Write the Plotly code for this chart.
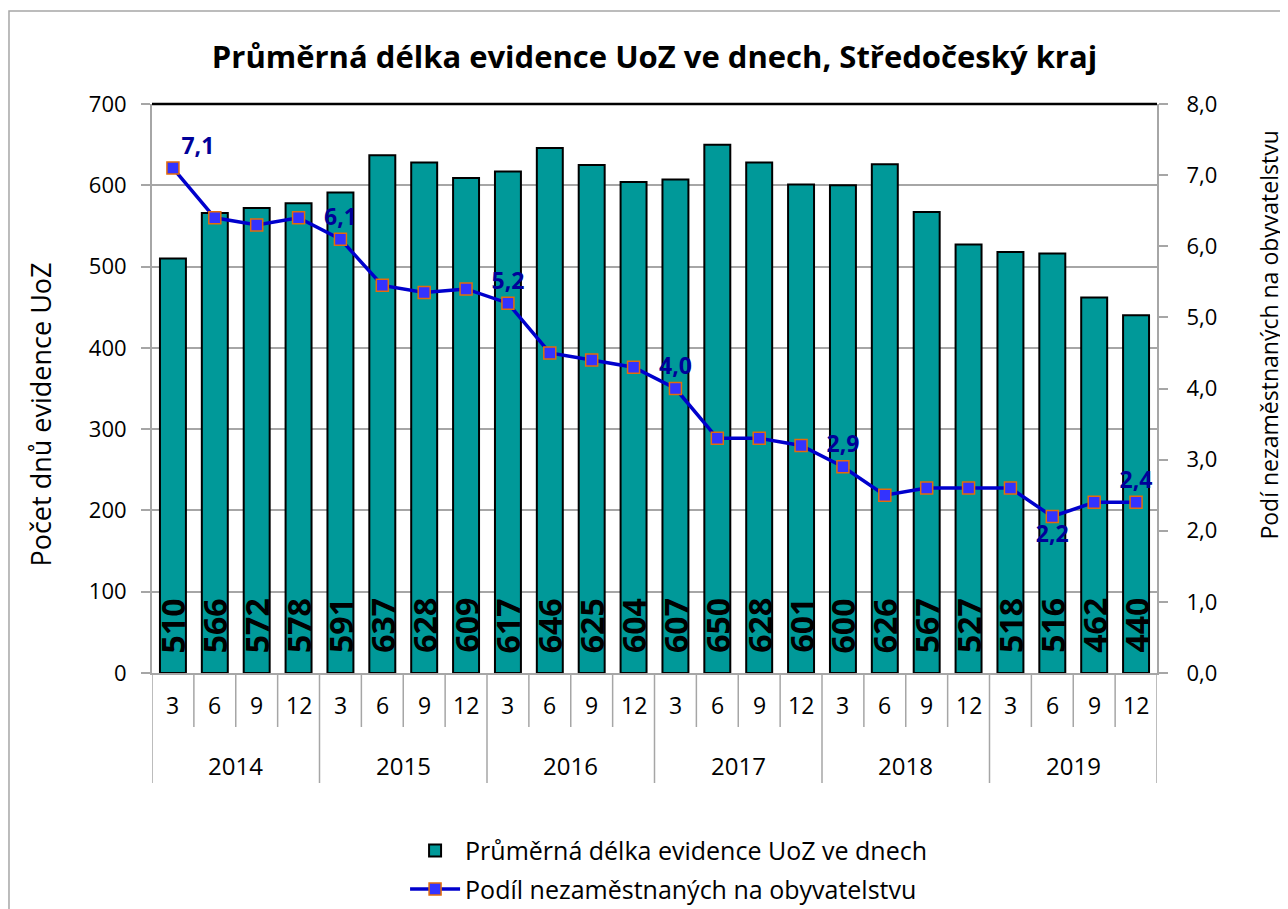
import plotly.graph_objects as go

# ---- data ----
years = ["2014", "2015", "2016", "2017", "2018", "2019"]
months = ["3", "6", "9", "12"]
days = [510, 566, 572, 578, 591, 637, 628, 609, 617, 646, 625, 604,
        607, 650, 628, 601, 600, 626, 567, 527, 518, 516, 462, 440]
share = [7.1, 6.4, 6.3, 6.4, 6.1, 5.45, 5.35, 5.4, 5.2, 4.5, 4.4, 4.3,
         4.0, 3.3, 3.3, 3.2, 2.9, 2.5, 2.6, 2.6, 2.6, 2.2, 2.4, 2.4]
labeled_points = [0, 4, 8, 12, 16, 21, 23]

bar_name = "Průměrná délka evidence UoZ ve dnech"
line_name = "Podíl nezaměstnaných na obyvatelstvu"
title = "Průměrná délka evidence UoZ ve dnech, Středočeský kraj"
y1_title = "Počet dnů evidence UoZ"
y2_title = "Podí nezaměstnaných na obyvatelstvu"

FONT = "'Open Sans', Lato, sans-serif"
n = len(days)
x = list(range(n))
month_labels = [m for _ in years for m in months]

line_text = [f"{v:.1f}".replace(".", ",") if i in labeled_points else "" for i, v in enumerate(share)]
line_pos = ["top center"] * n
line_pos[0] = "top right"
line_pos[21] = "bottom center"

fig = go.Figure()
fig.add_trace(go.Bar(
    x=x, y=days, name=bar_name, width=0.62, legendgroup="a",
    marker=dict(color="#009999", line=dict(color="#000000", width=2)),
    yaxis="y",
))
fig.add_trace(go.Scatter(
    x=x, y=share, name=line_name, yaxis="y2", legendgroup="b",
    mode="lines+markers+text",
    line=dict(color="#0000CC", width=3.5),
    marker=dict(symbol="square", size=12, color="#3333FF",
                line=dict(color="#E46C0A", width=1.5)),
    text=line_text, textposition=line_pos,
    textfont=dict(family=FONT, size=23, color="#000099", weight="bold"),
))

annotations = []
# bar value labels (rotated, at base)
for i, v in enumerate(days):
    annotations.append(dict(
        x=i, y=0, xref="x", yref="y", text=str(v), textangle=-90,
        showarrow=False, yanchor="bottom", xanchor="center", yshift=18,
        font=dict(family=FONT, size=32, color="#000000", weight="bold"),
    ))
# month labels
for i, m in enumerate(month_labels):
    annotations.append(dict(
        x=i, y=-0.056, xref="x", yref="paper", text=m, showarrow=False,
        font=dict(family=FONT, size=23, color="#000000"), yanchor="middle",
    ))
# year labels
for k, yr in enumerate(years):
    annotations.append(dict(
        x=k * len(months) + (len(months) - 1) / 2, y=-0.163, xref="x", yref="paper",
        text=yr, showarrow=False, font=dict(family=FONT, size=24, color="#000000"),
        yanchor="middle",
    ))
# axis titles
annotations.append(dict(
    x=-0.111, y=0.455, xref="paper", yref="paper", text=y1_title, textangle=-90,
    showarrow=False, xanchor="center", yanchor="middle",
    font=dict(family=FONT, size=27, color="#000000"),
))
annotations.append(dict(
    x=1.111, y=0.594, xref="paper", yref="paper", text=y2_title, textangle=-90,
    showarrow=False, xanchor="center", yanchor="middle",
    font=dict(family=FONT, size=23, color="#000000"),
))

shapes = []
# category boundaries
for b in range(n + 1):
    is_year = b % len(months) == 0
    shapes.append(dict(
        type="line", xref="x", yref="paper", x0=b - 0.5, x1=b - 0.5,
        y0=0, y1=-0.1933 if is_year else -0.0949,
        line=dict(color="#A6A6A6", width=1.5),
    ))
# plot area top border
shapes.append(dict(type="line", xref="paper", yref="paper", x0=0, x1=1, y0=1, y1=1,
                   line=dict(color="#000000", width=2.5)))
# chart outer border
shapes.append(dict(type="rect", xref="paper", yref="paper",
                   x0=-0.1423, x1=1.1254, y0=-0.45, y1=1.1634,
                   line=dict(color="#A6A6A6", width=1.5), fillcolor="rgba(0,0,0,0)",
                   layer="below"))

fig.update_layout(
    width=1280, height=940,
    margin=dict(l=144, r=131, t=96, b=275),
    paper_bgcolor="white", plot_bgcolor="white",
    separators=", ",
    font=dict(family=FONT, color="#000000"),
    title=dict(text=f"<b>{title}</b>", x=0.5, xanchor="center", xref="paper",
               y=1 - 49 / 940, yanchor="middle", font=dict(family=FONT, size=31)),
    showlegend=True,
    legend=dict(orientation="v", x=0.514, xanchor="center", y=-0.346, yanchor="middle",
                traceorder="grouped", tracegroupgap=3,
                font=dict(family=FONT, size=25), itemwidth=50),
    xaxis=dict(range=[-0.5, n - 0.5], showticklabels=False, ticks="",
               showline=True, linecolor="#A6A6A6", linewidth=2, showgrid=False,
               zeroline=False, fixedrange=True),
    yaxis=dict(range=[0, 700], dtick=100, showgrid=True, gridcolor="#A6A6A6",
               gridwidth=1.5, showline=True, linecolor="#A6A6A6", linewidth=2,
               ticks="outside", ticklen=9, tickcolor="#A6A6A6", tickwidth=1.5,
               ticklabelstandoff=10,
               tickfont=dict(family=FONT, size=22), zeroline=False),
    yaxis2=dict(range=[0, 8], dtick=1, tickformat=".1f", overlaying="y", side="right",
                showgrid=False, showline=True, linecolor="#A6A6A6", linewidth=2,
                ticks="outside", ticklen=9, tickcolor="#A6A6A6", tickwidth=1.5,
                ticklabelstandoff=14,
                tickfont=dict(family=FONT, size=22), zeroline=False),
    annotations=annotations,
    shapes=shapes,
)

fig.write_html("out.html")
